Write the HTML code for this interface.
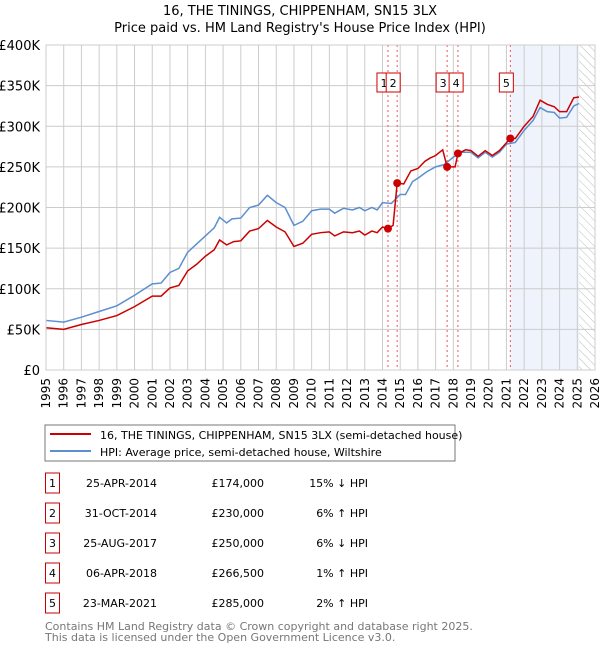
<!DOCTYPE html>
<html><head><meta charset="utf-8"><style>
body{margin:0;background:#fff;font-family:"Liberation Sans","DejaVu Sans",sans-serif;}
svg text{font-family:"DejaVu Sans","Liberation Sans",sans-serif;}
</style></head><body>
<svg width="600" height="650" xmlns="http://www.w3.org/2000/svg">
<defs><pattern id="hatch" width="6" height="6" patternUnits="userSpaceOnUse" patternTransform="rotate(-45)"><line x1="0" y1="0" x2="0" y2="6" stroke="#bbb" stroke-width="1"/></pattern></defs>
<text x="300" y="15" text-anchor="middle" font-size="13">16, THE TININGS, CHIPPENHAM, SN15 3LX</text>
<text x="300" y="32" text-anchor="middle" font-size="13">Price paid vs. HM Land Registry's House Price Index (HPI)</text>
<g id="plot"></g>
<rect x="45" y="425" width="410" height="36" fill="#fff" stroke="#777"/>
<line x1="50" y1="434" x2="91" y2="434" stroke="#cc0000" stroke-width="2"/>
<text x="100" y="439" font-size="11">16, THE TININGS, CHIPPENHAM, SN15 3LX (semi-detached house)</text>
<line x1="50" y1="451" x2="91" y2="451" stroke="#5b8fd0" stroke-width="2"/>
<text x="100" y="456" font-size="11">HPI: Average price, semi-detached house, Wiltshire</text>
<g id="table"></g>
<text x="45" y="630" font-size="11" fill="#777">Contains HM Land Registry data © Crown copyright and database right 2025.</text>
<text x="45" y="641" font-size="11" fill="#777">This data is licensed under the Open Government Licence v3.0.</text>
</svg>
<script>
const hpiX=[1995,1996,1997,1998,1999,2000,2001,2001.5,2002,2002.5,2003,2003.5,2004,2004.5,2004.8,2005.2,2005.5,2006,2006.5,2007,2007.5,2008,2008.5,2009,2009.5,2010,2010.5,2011,2011.3,2011.8,2012.3,2012.7,2013,2013.4,2013.7,2014,2014.5,2015,2015.3,2015.7,2016,2016.5,2017,2017.5,2018,2018.5,2019,2019.4,2019.8,2020.2,2020.6,2021,2021.5,2022,2022.5,2022.9,2023.3,2023.7,2024,2024.4,2024.8,2025.1];
const hpiY=[61,59,65,72,79,92,106,107,120,125,145,155,165,175,188,181,186,187,200,203,215,206,200,178,183,196,198,198,193,199,197,200,196,200,197,206,205,216,216,232,236,244,250,253,262,268,268,261,268,262,268,278,280,295,307,323,318,317,310,311,325,328];
const priceX=[1995,1996,1997,1998,1999,2000,2001,2001.5,2002,2002.5,2003,2003.5,2004,2004.5,2004.8,2005.2,2005.6,2006,2006.5,2007,2007.5,2008,2008.5,2009,2009.5,2010,2010.5,2011,2011.3,2011.8,2012.3,2012.7,2013,2013.4,2013.7,2014,2014.31,2014.6,2014.83,2015.2,2015.6,2016,2016.4,2016.7,2017,2017.4,2017.65,2018.1,2018.26,2018.7,2019,2019.4,2019.8,2020.2,2020.6,2021.22,2021.5,2022,2022.5,2022.9,2023.3,2023.7,2024,2024.4,2024.8,2025.1];
const priceY=[52,50,56,61,67,78,91,91,101,104,122,130,140,148,160,154,158,159,171,174,184,176,170,152,156,167,169,170,165,170,169,171,166,171,169,176,174,178,230,229,245,248,257,261,264,271,250,250,266.5,271,270,263,270,264,270,285,285,300,312,332,327,324,318,318,335,336];
const saleX=[2014.31,2014.83,2017.65,2018.26,2021.22];
const saleY=[174,230,250,266.5,285];
const saleLabels=["1","2","3","4","5"];
const saleDates=["25-APR-2014","31-OCT-2014","25-AUG-2017","06-APR-2018","23-MAR-2021"];
const salePrices=["£174,000","£230,000","£250,000","£266,500","£285,000"];
const saleDiffs=["15% ↓ HPI","6% ↑ HPI","6% ↓ HPI","1% ↑ HPI","2% ↑ HPI"];
const yTicks=[0,50,100,150,200,250,300,350,400];
const yTickLabels=["£0","£50K","£100K","£150K","£200K","£250K","£300K","£350K","£400K"];
const xYears=[];for(let y=1995;y<=2026;y++)xYears.push(y);

const L=46,R=595,T=45,B=370;
const xs=v=>L+(v-1995)*(R-L)/31;
const ys=v=>B-v*(B-T)/400;
const NS="http://www.w3.org/2000/svg";
function mk(tag,attrs,parent,text){const e=document.createElementNS(NS,tag);for(const k in attrs)e.setAttribute(k,attrs[k]);if(text!==undefined)e.textContent=text;parent.appendChild(e);return e;}
const g=document.getElementById('plot');
let r=mk('rect',{x:xs(2021.22),y:T,width:xs(2025.1)-xs(2021.22),height:B-T,fill:'#eef3fc'},g);


r=mk('rect',{x:xs(2025.1),y:T,width:R-xs(2025.1),height:B-T,fill:'url(#hatch)'},g);


xYears.forEach(y=>{const l=mk('line',{x1:xs(y),x2:xs(y),y1:T,y2:B,stroke:'#ccc','stroke-width':1},g);


const t=mk('text',{x:0,y:0,'font-size':12,'text-anchor':'end',transform:`translate(${xs(y)+4},${B+8}) rotate(-90)`},g,String(y));

});
yTicks.forEach((v,i)=>{const l=mk('line',{x1:L,x2:R,y1:ys(v),y2:ys(v),stroke:'#ccc','stroke-width':1},g);


const t=mk('text',{x:40,y:ys(v)+5,'font-size':13,'text-anchor':'end'},g,yTickLabels[i]);

});
let prevBox=-100;
saleX.forEach((x,i)=>{const l=mk('line',{x1:xs(x),x2:xs(x),y1:T,y2:B,stroke:'#e55','stroke-width':1,'stroke-dasharray':'2,3'},g);


let bx=xs(x)-11;
if(bx<prevBox+14 && bx>prevBox+10) bx=prevBox+13;
prevBox=bx;
const b=mk('rect',{x:bx,y:73,width:14,height:19,fill:'#fff',stroke:'#cc0000'},g);


const t=mk('text',{x:bx+7,y:87,'font-size':11,'text-anchor':'middle'},g,saleLabels[i]);

});
function line(X,Y,color,name){const p=mk('polyline',{points:X.map((x,i)=>xs(x)+','+ys(Y[i])).join(' '),fill:'none',stroke:color,'stroke-width':1.5},g);

}
line(hpiX,hpiY,'#5b8fd0','hpi-line');
line(priceX,priceY,'#cc0000','price-line');
mk('rect',{x:L,y:T,width:R-L,height:B-T,fill:'none',stroke:'#ccc'},g);
saleX.forEach((x,i)=>{const c=mk('circle',{cx:xs(x),cy:ys(saleY[i]),r:4,fill:'#cc0000'},g);

});
const tb=document.getElementById('table');
saleLabels.forEach((s,i)=>{const y=483+i*30;
const b=mk('rect',{x:45.5,y:y-10,width:14,height:20,fill:'#fff',stroke:'#cc0000'},tb);


let t=mk('text',{x:52.5,y:y+4,'font-size':11,'text-anchor':'middle'},tb,s);


t=mk('text',{x:157,y:y+4,'font-size':11,'text-anchor':'end'},tb,saleDates[i]);


t=mk('text',{x:264,y:y+4,'font-size':11,'text-anchor':'end'},tb,salePrices[i]);


t=mk('text',{x:368,y:y+4,'font-size':11,'text-anchor':'end'},tb,saleDiffs[i]);

});
</script>
</body></html>
